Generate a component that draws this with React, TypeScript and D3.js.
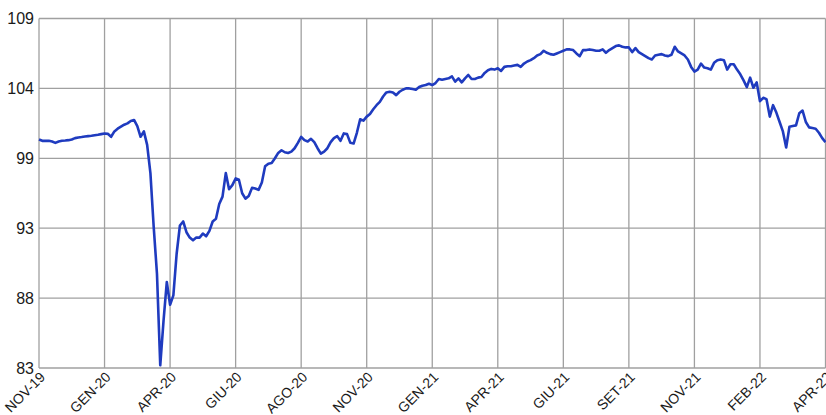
import { useEffect, useRef } from 'react';
import * as d3 from 'd3';

// tick labels along the bottom (one every 20 samples)
const monthLabels = ['NOV-19', 'GEN-20', 'APR-20', 'GIU-20', 'AGO-20', 'NOV-20', 'GEN-21', 'APR-21', 'GIU-21', 'SET-21', 'NOV-21', 'FEB-22', 'APR-22'];
const stepsPerLabel = 20;

// index values, evenly spaced samples
const indexValues = [
  100.0, 99.9, 99.9, 99.9, 99.85, 99.75, 99.85, 99.9, 99.92, 99.95,
  100.0, 100.1, 100.15, 100.18, 100.22, 100.25, 100.28, 100.32, 100.35, 100.4,
  100.45, 100.42, 100.2, 100.6, 100.8, 100.95, 101.1, 101.2, 101.38, 101.45,
  101.0, 100.2, 100.6, 99.6, 97.5, 93.5, 90.0, 83.2, 86.5, 89.4,
  87.7, 88.4, 91.5, 93.6, 93.9, 93.1, 92.7, 92.5, 92.7, 92.7,
  93.0, 92.8, 93.2, 93.9, 94.1, 95.2, 95.75, 97.5, 96.3, 96.6,
  97.1, 97.0, 96.0, 95.6, 95.8, 96.4, 96.35, 96.25, 96.8, 98.0,
  98.2, 98.25, 98.6, 99.0, 99.2, 99.05, 99.0, 99.1, 99.35, 99.75,
  100.2, 99.95, 99.85, 100.05, 99.8, 99.35, 98.95, 99.1, 99.35, 99.8,
  100.1, 100.25, 99.9, 100.45, 100.4, 99.75, 99.7, 100.5, 101.5, 101.4,
  101.7, 101.9, 102.25, 102.55, 102.8, 103.2, 103.5, 103.55, 103.5, 103.3,
  103.55, 103.7, 103.8, 103.8, 103.75, 103.7, 103.9, 104.0, 104.05, 104.15,
  104.05, 104.2, 104.5, 104.45, 104.5, 104.55, 104.7, 104.3, 104.55, 104.25,
  104.55, 104.8, 104.5, 104.5, 104.6, 104.65, 104.95, 105.15, 105.25, 105.2,
  105.3, 105.1, 105.4, 105.45, 105.45, 105.5, 105.55, 105.4, 105.65, 105.8,
  105.9, 106.05, 106.25, 106.35, 106.6, 106.45, 106.35, 106.3, 106.4, 106.5,
  106.6, 106.7, 106.7, 106.65, 106.4, 106.2, 106.65, 106.65, 106.7, 106.65,
  106.6, 106.6, 106.7, 106.45, 106.65, 106.8, 106.95, 107.0, 106.9, 106.85,
  106.85, 106.5, 106.8, 106.5, 106.35, 106.2, 106.05, 105.95, 106.25, 106.3,
  106.35, 106.25, 106.2, 106.3, 106.9, 106.55, 106.4, 106.25, 105.95, 105.4,
  105.05, 105.2, 105.65, 105.35, 105.3, 105.2, 105.7, 105.9, 105.95, 105.9,
  105.2, 105.6, 105.6, 105.2, 104.85, 104.4, 103.9, 104.6, 103.85, 104.25,
  102.85, 103.1, 103.0, 101.7, 102.55, 102.0, 101.3, 100.6, 99.4, 100.95,
  101.0, 101.05, 101.95, 102.15, 101.3, 100.9, 100.85, 100.8, 100.5, 100.1,
  99.8,
];

const yMin = 83;
const yMax = 109;
const yTickCount = 6;

export default function App() {
  const svgRef = useRef<SVGSVGElement>(null);

  useEffect(() => {
    const width = 826;
    const height = 415;
    const margin = { top: 18.5, right: 0.5, bottom: 47, left: 39 };

    const svg = d3.select(svgRef.current);
    svg.selectAll('*').remove();
    svg.attr('width', width).attr('height', height);

    const x = d3.scaleLinear()
      .domain([0, indexValues.length - 1])
      .range([margin.left, width - margin.right]);

    const y = d3.scaleLinear()
      .domain([yMin, yMax])
      .range([height - margin.bottom, margin.top]);

    const yTicks = d3.range(yTickCount).map(i => yMin + (i * (yMax - yMin)) / (yTickCount - 1));
    const xTicks = monthLabels.map((_, i) => i * stepsPerLabel);

    const grid = svg.append('g').attr('stroke', '#a0a0a0').attr('stroke-width', 1.3);

    grid.selectAll('line.h')
      .data(yTicks)
      .enter()
      .append('line')
      .attr('class', 'h')
      .attr('x1', margin.left)
      .attr('x2', width - margin.right)
      .attr('y1', d => y(d))
      .attr('y2', d => y(d));

    grid.selectAll('line.v')
      .data(xTicks)
      .enter()
      .append('line')
      .attr('class', 'v')
      .attr('x1', d => x(d))
      .attr('x2', d => x(d))
      .attr('y1', margin.top)
      .attr('y2', height - margin.bottom);

    svg.append('g')
      .selectAll('text')
      .data(yTicks)
      .enter()
      .append('text')
      .attr('x', margin.left - 5)
      .attr('y', d => y(d))
      .attr('dy', '0.35em')
      .attr('text-anchor', 'end')
      .attr('font-family', 'Liberation Sans, Arial, sans-serif')
      .attr('font-size', 16)
      .attr('fill', '#1a1a1a')
      .text(d => Math.round(d));

    svg.append('g')
      .selectAll('text')
      .data(xTicks)
      .enter()
      .append('text')
      .attr('transform', d => `translate(${x(d) + 7},${height - margin.bottom + 10}) rotate(-45)`)
      .attr('text-anchor', 'end')
      .attr('font-family', 'Liberation Sans, Arial, sans-serif')
      .attr('font-size', 14)
      .attr('fill', '#1a1a1a')
      .text((_, i) => monthLabels[i]);

    const line = d3.line<number>()
      .x((_, i) => x(i))
      .y(d => y(d));

    svg.append('path')
      .datum(indexValues)
      .attr('fill', 'none')
      .attr('stroke', '#1f3bbf')
      .attr('stroke-width', 2.6)
      .attr('stroke-linejoin', 'round')
      .attr('d', line);
  }, []);

  return (
    <div style={{ position: 'absolute', left: 0, top: 0 }}>
      <svg ref={svgRef} style={{ display: 'block', background: '#fff' }}></svg>
    </div>
  );
}
